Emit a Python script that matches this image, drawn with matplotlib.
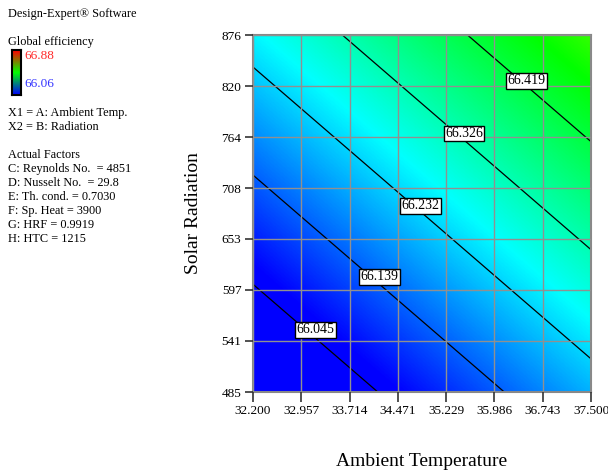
import numpy as np
import matplotlib
matplotlib.use("Agg")
import matplotlib.pyplot as plt
from matplotlib.colors import LinearSegmentedColormap, Normalize

# ---------------- data ----------------
temp_ticks = [32.200, 32.957, 33.714, 34.471, 35.229, 35.986, 36.743, 37.500]
rad_ticks = [485, 541, 597, 653, 708, 764, 820, 876]
contour_levels = [66.045, 66.139, 66.232, 66.326, 66.419]
label_temp = [33.18, 34.18, 34.83, 35.51, 36.49]
label_rad = [553, 611, 689, 768, 826]
ref_temp, ref_rad, ref_eff = 32.2, 603.0, 66.045
slope_temp = 0.0474
slope_rad = 0.000786
eff_low, eff_high = 66.06, 66.88

left_lines = [
    ("Design-Expert\u00ae Software", 14),
    ("Global efficiency", 42),
    ("X1 = A: Ambient Temp.", 113),
    ("X2 = B: Radiation", 127),
    ("Actual Factors", 155),
    ("C: Reynolds No.  = 4851", 169),
    ("D: Nusselt No.  = 29.8", 183),
    ("E: Th. cond. = 0.7030", 197),
    ("F: Sp. Heat = 3900", 211),
    ("G: HRF = 0.9919", 225),
    ("H: HTC = 1215", 239),
]

W, H = 608, 472
plt.rcParams['font.family'] = ['Liberation Serif', 'DejaVu Serif']
fig = plt.figure(figsize=(W / 100, H / 100), dpi=100)

x0, x1, y0, y1 = 253, 591, 35, 392
ax = fig.add_axes([x0 / W, 1 - y1 / H, (x1 - x0) / W, (y1 - y0) / H])

t = np.linspace(temp_ticks[0], temp_ticks[-1], 400)
r = np.linspace(rad_ticks[0], rad_ticks[-1], 400)
T, R = np.meshgrid(t, r)
Z = ref_eff + slope_temp * (T - ref_temp) + slope_rad * (R - ref_rad)

cmap = LinearSegmentedColormap.from_list(
    "de", ["#0000ff", "#00ffff", "#00ff00", "#ffff00", "#ff0000"])
norm = Normalize(vmin=eff_low, vmax=eff_high, clip=True)
ax.imshow(Z, extent=[t[0], t[-1], r[0], r[-1]], origin="lower",
          aspect="auto", cmap=cmap, norm=norm, interpolation="bilinear", zorder=0)

ax.set_xticks(temp_ticks)
ax.set_yticks(rad_ticks)
ax.grid(True, color="#909090", linewidth=1.0, zorder=1)
ax.set_axisbelow(False)

cs = ax.contour(T, R, Z, levels=contour_levels, colors="black", linewidths=0.9, zorder=2)

for lv, lx, ly in zip(contour_levels, label_temp, label_rad):
    ax.text(lx, ly, f"{lv:.3f}", fontsize=10, ha="center", va="center", zorder=5,
            bbox=dict(boxstyle="square,pad=0.1", facecolor="white",
                      edgecolor="black", linewidth=1.0))

ax.set_xlim(temp_ticks[0], temp_ticks[-1])
ax.set_ylim(rad_ticks[0], rad_ticks[-1])
ax.set_xticklabels([f"{v:.3f}" for v in temp_ticks], fontsize=9.5)
ax.set_yticklabels([str(v) for v in rad_ticks], fontsize=9.5)
ax.tick_params(axis="x", direction="out", length=7.2, width=1.2, color="#333333", pad=2.5)
ax.tick_params(axis="y", direction="out", length=5.8, width=1.2, color="#333333", pad=2.5)
for sp in ax.spines.values():
    sp.set_color("#888888")
    sp.set_linewidth(1.5)

ax.set_xlabel("Ambient Temperature", fontsize=14)
ax.xaxis.label.set_va("center")
ax.xaxis.set_label_coords(0.5, (y1 - 462) / (y1 - y0))
ax.set_ylabel("Solar Radiation", fontsize=14)
ax.yaxis.label.set_va("center")
ax.yaxis.set_label_coords((194 - x0) / (x1 - x0), 0.5)

for txt, y in left_lines:
    fig.text(8 / W, 1 - y / H, txt, fontsize=8.8, ha="left", va="center")

# legend colour bar
cax = fig.add_axes([12 / W, 1 - 95 / H, 9 / W, 45 / H])
grad = np.linspace(0, 1, 100).reshape(-1, 1)
bar_cmap = LinearSegmentedColormap.from_list("bar", ["#0000ff", "#00ff00", "#ff0000"])
cax.imshow(grad, origin="lower", aspect="auto", cmap=bar_cmap, extent=[0, 1, 0, 1])
cax.set_xticks([])
cax.set_yticks([])
for sp in cax.spines.values():
    sp.set_color("black")
    sp.set_linewidth(1.5)
fig.text(24 / W, 1 - 56 / H, f"{eff_high:.2f}", color="#ff2a2a", fontsize=9.5, ha="left", va="center")
fig.text(24 / W, 1 - 84 / H, f"{eff_low:.2f}", color="#3535ff", fontsize=9.5, ha="left", va="center")

fig.savefig("out.png", dpi=100)
